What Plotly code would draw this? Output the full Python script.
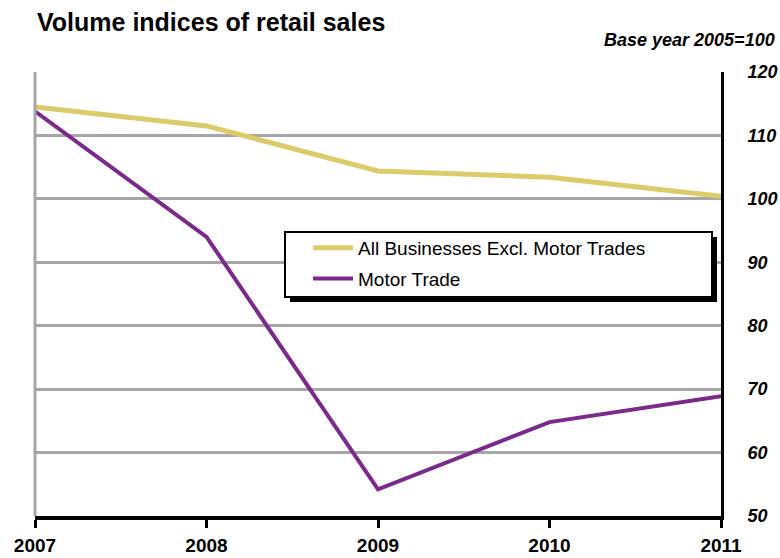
import plotly.graph_objects as go

years = [2007, 2008, 2009, 2010, 2011]
all_businesses = [114.5, 111.5, 104.4, 103.4, 100.4]
motor_trade = [113.8, 94.0, 54.2, 64.8, 68.9]
y_ticks = [50, 60, 70, 80, 90, 100, 110, 120]

L, R, T, B = 35, 59, 72, 42
W, H = 780, 558
pw, ph = W - L - R, H - T - B

def px(x):
    return (x - L) / pw

def py(y):
    return (H - B - y) / ph

fig = go.Figure()
fig.add_trace(go.Scatter(x=years, y=all_businesses, mode="lines",
                         name="All Businesses Excl. Motor Trades", legendgroup="a",
                         line=dict(color="#dccb6a", width=5)))
fig.add_trace(go.Scatter(x=years, y=motor_trade, mode="lines",
                         name="Motor Trade", legendgroup="b",
                         line=dict(color="#7b2a8c", width=4)))

font = "Liberation Sans, Arial, sans-serif"

fig.update_layout(
    width=W, height=H,
    margin=dict(l=L, r=R, t=T, b=B, autoexpand=False),
    paper_bgcolor="white", plot_bgcolor="white",
    font=dict(family=font, color="black"),
    showlegend=True,
    legend=dict(x=px(308), y=py(229), xanchor="left", yanchor="top",
                bgcolor="rgba(0,0,0,0)", borderwidth=0,
                font=dict(size=19, family=font), itemwidth=40,
                tracegroupgap=3),
    xaxis=dict(range=[2007, 2011], tickvals=years, ticktext=[str(v) for v in years],
               showgrid=False, zeroline=False, automargin=False,
               showline=True, linecolor="black", linewidth=4,
               ticks="outside", ticklen=8, tickwidth=3, tickcolor="black",
               ticklabelstandoff=1,
               tickfont=dict(size=19, weight="bold", family=font)),
    yaxis=dict(range=[50, 120], tickvals=y_ticks, side="right", automargin=False,
               showgrid=True, gridcolor="#a6a6a6", gridwidth=3,
               zeroline=False, showline=True, linecolor="black", linewidth=3,
               ticks="", ticklabelstandoff=20,
               tickfont=dict(size=18, weight="bold", style="italic", family=font)),
)

# left gray border
fig.add_shape(type="line", xref="paper", yref="paper", x0=0, x1=0, y0=0, y1=1,
              line=dict(color="#a6a6a6", width=3))
# legend box with shadow
fig.add_shape(type="rect", xref="paper", yref="paper",
              x0=px(290), x1=px(717), y0=py(302), y1=py(237),
              fillcolor="black", line=dict(width=0), layer="above")
fig.add_shape(type="rect", xref="paper", yref="paper",
              x0=px(285), x1=px(712), y0=py(297), y1=py(232),
              fillcolor="white", line=dict(color="black", width=2), layer="above")

fig.add_annotation(text="<b>Volume indices of retail sales</b>", xref="paper", yref="paper",
                   x=0, y=py(22), xanchor="left", yanchor="middle", showarrow=False,
                   font=dict(size=25, family=font))
fig.add_annotation(text="<b><i>Base year 2005=100</i></b>", xref="paper", yref="paper",
                   x=px(777), y=py(40), xanchor="right", yanchor="middle", showarrow=False,
                   font=dict(size=18, family=font))

fig.write_html("out.html")
